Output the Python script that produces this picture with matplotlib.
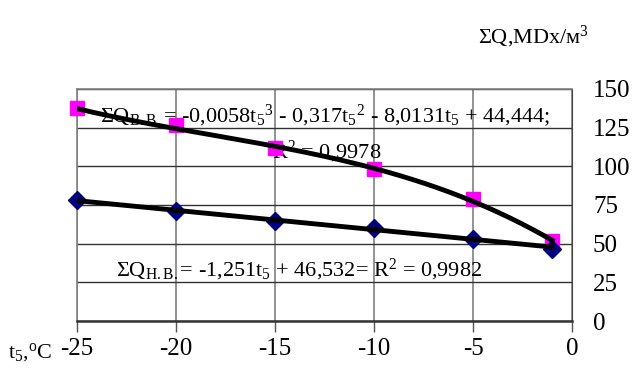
import numpy as np
import matplotlib
matplotlib.use("Agg")
import matplotlib.pyplot as plt

# measured points
t5 = [-25, -20, -15, -10, -5, -1]
q_vv = [137.5, 126.5, 111.5, 98, 79, 52]
q_nv = [78, 71, 64.7, 59.8, 52.8, 46.5]

# trendline coefficients (highest power first)
coef_vv = [-0.0058, -0.317, -8.0131, 44.444]
coef_nv = [-1.251, 46.532]

x_ticks = [-25, -20, -15, -10, -5, 0]
y_ticks = [0, 25, 50, 75, 100, 125, 150]

plt.rcParams["font.family"] = ["Liberation Serif", "DejaVu Serif"]
plt.rcParams["mathtext.fontset"] = "custom"
plt.rcParams["mathtext.rm"] = "Liberation Serif"
plt.rcParams["mathtext.it"] = "Liberation Serif"

fig = plt.figure(figsize=(6.34, 3.72), dpi=100)
ax = fig.add_axes([0.1215, 0.137, 0.7808, 0.624])

ax.set_xlim(-25, 0)
ax.set_ylim(0, 150)
ax.set_xticks(x_ticks)
ax.set_yticks(y_ticks)
ax.set_xticklabels([str(v) for v in x_ticks], fontsize=18)
ax.set_yticklabels([str(v) for v in y_ticks], fontsize=18)
ax.yaxis.tick_right()
ax.tick_params(axis="x", direction="out", length=8, width=1, color="#555555", pad=4)
ax.tick_params(axis="y", length=0, pad=15)

for v in x_ticks:
    ax.axvline(v, color="#808080", linewidth=1.2, zorder=1)
for v in y_ticks:
    ax.axhline(v, color="#333333", linewidth=1.0, zorder=1)

for side in ["top", "left"]:
    ax.spines[side].set_color("#808080")
    ax.spines[side].set_linewidth(1.2)
ax.spines["right"].set_color("#444444")
ax.spines["bottom"].set_color("#333333")
ax.spines["bottom"].set_linewidth(1.8)

ax.plot(t5, q_vv, linestyle="none", marker="s", markersize=10.5,
        color="#ff00ff", zorder=3, clip_on=False)
ax.plot(t5, q_nv, linestyle="none", marker="D", markersize=9.5,
        color="#000080", zorder=3, clip_on=False)

tt = np.linspace(t5[0], t5[-1], 200)
ax.plot(tt, np.polyval(coef_vv, tt), color="black", linewidth=3.5, zorder=4)
ax.plot(tt, np.polyval(coef_nv, tt), color="black", linewidth=3.5, zorder=4)

ax.text(-23.85, 128.5,
        r"$\Sigma$Q$_{\mathrm{В.В.}}$= -0,0058t$_5{}^3$ - 0,317t$_5{}^2$ - 8,0131t$_5$ + 44,444;",
        fontsize=16, va="baseline", ha="left", zorder=2)
ax.text(-15.13, 105.3, r"R$^2$ = 0,9978", fontsize=16, va="baseline", ha="left", zorder=2)
ax.text(-23.03, 29,
        r"$\Sigma$Q$_{\mathrm{Н.В.}}$= -1,251t$_5$ + 46,532= R$^2$ = 0,9982",
        fontsize=16, va="baseline", ha="left", zorder=2)

fig.text(0.754, 0.884, r"$\Sigma$Q,MDx/м$^3$", fontsize=16, va="baseline", ha="left")
fig.text(0.013, 0.040, r"t$_5$,$^\mathrm{o}$C", fontsize=16, va="baseline", ha="left")

fig.savefig("out.png", dpi=100)
plt.close(fig)
